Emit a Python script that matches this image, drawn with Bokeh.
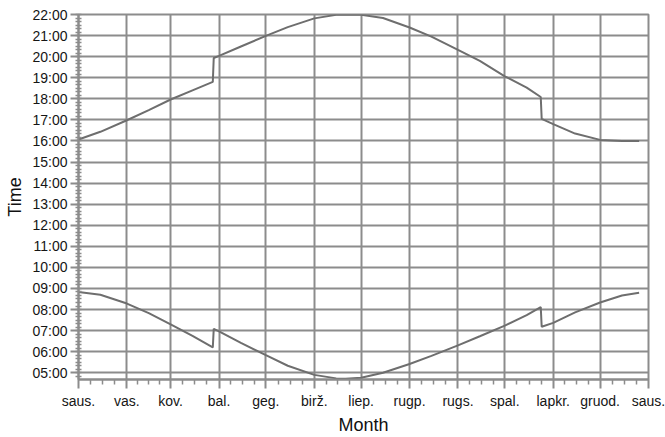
from bokeh.plotting import figure
from bokeh.models import FixedTicker, Range1d
from bokeh.embed import file_html
from bokeh.resources import INLINE

# ---- data (day of year from Jan 1 = 0, local clock time) ----
days = [0, 14, 31, 45, 59, 73, 86, 86.6, 90, 104, 120, 134, 151, 165, 171, 181,
        195, 212, 226, 243, 257, 273, 287, 296, 296.6, 304, 318, 334, 348, 359]
sunset = ["16:04", "16:26", "16:59", "17:28", "17:58", "18:24", "18:48", "19:56",
          "20:02", "20:29", "20:59", "21:24", "21:49", "21:59", "22:00", "21:59",
          "21:50", "21:23", "20:57", "20:19", "19:48", "19:04", "18:32", "18:05",
          "17:03", "16:48", "16:21", "16:03", "16:00", "16:00"]
sunrise = ["08:50", "08:42", "08:17", "07:50", "07:18", "06:45", "06:12", "07:05",
           "06:58", "06:25", "05:50", "05:20", "04:54", "04:44", "04:43", "04:46",
           "05:00", "05:25", "05:48", "06:18", "06:44", "07:14", "07:44", "08:07",
           "07:11", "07:22", "07:52", "08:20", "08:40", "08:48"]

month_starts = [0, 31, 59, 90, 120, 151, 181, 212, 243, 273, 304, 334, 365]
month_labels = ["saus.", "vas.", "kov.", "bal.", "geg.", "birž.", "liep.",
                "rugp.", "rugs.", "spal.", "lapkr.", "gruod.", "saus."]
hour_ticks = list(range(5, 23))
hour_labels = ["%02d:00" % h for h in hour_ticks]


def to_hours(s):
    h, m = s.split(":")
    return int(h) + int(m) / 60.0


sunset_h = [to_hours(s) for s in sunset]
sunrise_h = [to_hours(s) for s in sunrise]

# minor ticks
x_minor = []
for a, b in zip(month_starts[:-1], month_starts[1:]):
    for k in range(1, 4):
        x_minor.append(a + (b - a) * k / 4.0)
y_minor = [4.5 + i / 6.0 for i in range(0, 6 * 18)]

GRID = "#8c8c8c"
LINE = "#6e6e6e"
TXT = "#151515"
FONT = "Liberation Sans"

p = figure(width=665, height=437, output_backend="svg", toolbar_location=None,
           x_range=Range1d(0, 365), y_range=Range1d(4.68, 22.0),
           min_border_left=78, min_border_right=17, min_border_top=14,
           min_border_bottom=56)
p.background_fill_color = "white"
p.border_fill_color = "white"
p.outline_line_color = GRID
p.outline_line_width = 2

p.line(days, sunset_h, line_color=LINE, line_width=2)
p.line(days, sunrise_h, line_color=LINE, line_width=2)

xa = p.xaxis[0]
xa.ticker = FixedTicker(ticks=month_starts, minor_ticks=x_minor)
xa.major_label_overrides = {m: l for m, l in zip(month_starts, month_labels)}
xa.axis_label = "Month"
xa.major_tick_out = 9
xa.major_tick_in = 0
xa.minor_tick_out = 5
xa.minor_tick_in = 0
xa.major_label_standoff = 4
xa.major_label_text_font_size = "14px"
xa.axis_label_standoff = 3

ya = p.yaxis[0]
ya.ticker = FixedTicker(ticks=hour_ticks, minor_ticks=y_minor)
ya.major_label_overrides = {h: l for h, l in zip(hour_ticks, hour_labels)}
ya.axis_label = "Time"
ya.major_tick_out = 8
ya.major_tick_in = 0
ya.minor_tick_out = 3
ya.minor_tick_in = 3
ya.major_label_standoff = 3
ya.major_label_text_font_size = "14px"
ya.axis_label_standoff = 4

for ax in (xa, ya):
    ax.axis_line_color = GRID
    ax.axis_line_width = 2
    ax.major_tick_line_color = GRID
    ax.major_tick_line_width = 2
    ax.minor_tick_line_color = GRID
    ax.minor_tick_line_width = 1.5
    ax.major_label_text_font = FONT
    ax.major_label_text_color = TXT
    ax.axis_label_text_font = FONT
    ax.axis_label_text_font_size = "18px"
    ax.axis_label_text_font_style = "normal"
    ax.axis_label_text_color = "#111111"

p.xgrid.grid_line_color = GRID
p.xgrid.grid_line_width = 2
p.ygrid.grid_line_color = GRID
p.ygrid.grid_line_width = 2

open("out.html", "w").write(file_html(p, INLINE))
